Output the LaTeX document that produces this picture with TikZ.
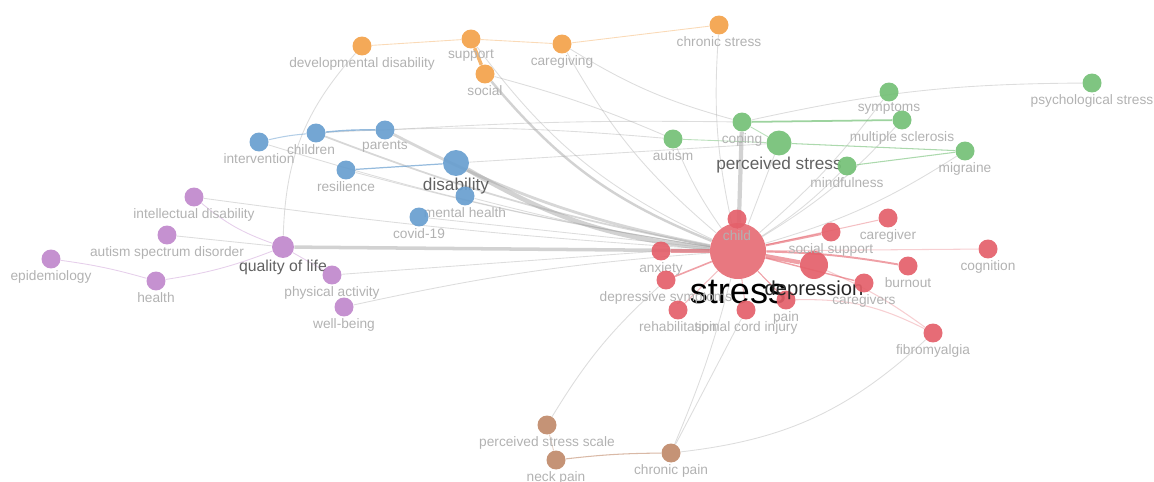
\documentclass[tikz,border=0pt]{standalone}
\usepackage{fontspec}
\setmainfont{Liberation Sans}
\usepackage{xcolor}
\usepackage{tikz}
\usetikzlibrary{positioning,backgrounds}

\definecolor{vosorange}{RGB}{243,162,74}
\definecolor{vosblue}{RGB}{104,158,207}
\definecolor{vosgreen}{RGB}{116,192,118}
\definecolor{vosred}{RGB}{228,96,106}
\definecolor{vospurple}{RGB}{192,136,204}
\definecolor{vosbrown}{RGB}{192,138,106}
\definecolor{labgray}{RGB}{178,178,178}

\begin{document}
\begin{tikzpicture}[x=0.02cm, y=0.02cm,
    kw/.style={circle, minimum size=0.38cm, inner sep=0pt, fill opacity=.92, label distance=0pt},
    lab/.style={font=\fontsize{7.8}{9}\selectfont, text=labgray, inner sep=0.5pt, text opacity=1},
    biglab/.style={font=\fontsize{9.8}{11}\selectfont, text=black!62, inner sep=0.5pt, text opacity=1},
    link/.style={draw=gray!70, opacity=.38, line width=.5pt},
    redlink/.style={draw=vosred, opacity=.6, line width=.6pt}]

    \useasboundingbox (0,0) rectangle (1154,481);

    % orange cluster
    \node [kw, fill=vosorange, label={[lab]below:developmental disability}] (devdis) at (362,435) {};
    \node [kw, fill=vosorange, label={[lab]below:support}] (support) at (471,442) {};
    \node [kw, fill=vosorange, label={[lab]below:social}] (social) at (485,407) {};
    \node [kw, fill=vosorange, label={[lab]below:caregiving}] (caregiving) at (562,437) {};
    \node [kw, fill=vosorange, label={[lab]below:chronic stress}] (chronstress) at (719,456) {};

    % blue cluster
    \node [kw, fill=vosblue, label={[lab]below:intervention}] (intervention) at (259,339) {};
    \node [kw, fill=vosblue, label={[lab, xshift=-0.1cm]below:children}] (children) at (316,348) {};
    \node [kw, fill=vosblue, label={[lab]below:parents}] (parents) at (385,351) {};
    \node [kw, fill=vosblue, label={[lab]below:resilience}] (resilience) at (346,311) {};
    \node [kw, fill=vosblue, minimum size=0.52cm, label={[biglab]below:disability}] (disability) at (456,318) {};
    \node [kw, fill=vosblue, label={[lab]below:mental health}] (mentalhealth) at (465,285) {};
    \node [kw, fill=vosblue, label={[lab]below:covid-19}] (covid) at (419,264) {};

    % green cluster
    \node [kw, fill=vosgreen, label={[lab]below:autism}] (autism) at (673,342) {};
    \node [kw, fill=vosgreen, label={[lab]below:coping}] (coping) at (742,359) {};
    \node [kw, fill=vosgreen, minimum size=0.5cm, label={[biglab]below:perceived stress}] (perceived) at (779,338) {};
    \node [kw, fill=vosgreen, label={[lab]below:symptoms}] (symptoms) at (889,389) {};
    \node [kw, fill=vosgreen, label={[lab]below:multiple sclerosis}] (ms) at (902,361) {};
    \node [kw, fill=vosgreen, label={[lab]below:mindfulness}] (mindfulness) at (847,315) {};
    \node [kw, fill=vosgreen, label={[lab]below:migraine}] (migraine) at (965,330) {};
    \node [kw, fill=vosgreen, label={[lab]below:psychological stress}] (psychstress) at (1092,398) {};

    % red cluster
    \node [kw, fill=vosred, minimum size=1.12cm, fill opacity=.85, label distance=-3pt,
        label={[font=\fontsize{20.5}{22}\selectfont, text=black, inner sep=0.5pt, text opacity=1]below:stress}] (stress) at (738,230) {};
    \node [kw, fill=vosred, label={[lab]below:child}] (child) at (737,262) {};
    \node [kw, fill=vosred, label={[lab]below:anxiety}] (anxiety) at (661,230) {};
    \node [kw, fill=vosred, label={[lab]below:depressive symptoms}] (depsym) at (666,201) {};
    \node [kw, fill=vosred, label={[lab]below:rehabilitation}] (rehab) at (678,171) {};
    \node [kw, fill=vosred, label={[lab]below:spinal cord injury}] (sci) at (746,171) {};
    \node [kw, fill=vosred, label={[lab]below:pain}] (pain) at (786,181) {};
    \node [kw, fill=vosred, minimum size=0.56cm, label={[font=\fontsize{11.5}{13}\selectfont, text=black!85, inner sep=0.5pt, text opacity=1]below:depression}] (depression) at (814,216) {};
    \node [kw, fill=vosred, label={[lab]below:social support}] (socsup) at (831,249) {};
    \node [kw, fill=vosred, label={[lab]below:caregiver}] (caregiver) at (888,263) {};
    \node [kw, fill=vosred, label={[lab]below:burnout}] (burnout) at (908,215) {};
    \node [kw, fill=vosred, label={[lab]below:caregivers}] (caregivers) at (864,198) {};
    \node [kw, fill=vosred, label={[lab]below:cognition}] (cognition) at (988,232) {};
    \node [kw, fill=vosred, label={[lab]below:fibromyalgia}] (fibro) at (933,148) {};

    % purple cluster
    \node [kw, fill=vospurple, label={[lab]below:intellectual disability}] (intdis) at (194,284) {};
    \node [kw, fill=vospurple, label={[lab]below:autism spectrum disorder}] (asd) at (167,246) {};
    \node [kw, fill=vospurple, label={[lab]below:epidemiology}] (epi) at (51,222) {};
    \node [kw, fill=vospurple, label={[lab]below:health}] (health) at (156,200) {};
    \node [kw, fill=vospurple, minimum size=0.44cm, label={[biglab, font=\fontsize{9}{11}\selectfont]below:quality of life}] (qol) at (283,234) {};
    \node [kw, fill=vospurple, label={[lab]below:physical activity}] (physact) at (332,206) {};
    \node [kw, fill=vospurple, label={[lab]below:well-being}] (wellbeing) at (344,174) {};

    % brown cluster
    \node [kw, fill=vosbrown, label={[lab]below:perceived stress scale}] (pss) at (547,56) {};
    \node [kw, fill=vosbrown, label={[lab]below:neck pain}] (neckpain) at (556,21) {};
    \node [kw, fill=vosbrown, label={[lab]below:chronic pain}] (chronpain) at (671,28) {};

    \begin{scope}[on background layer]
    % heavy links into stress
    \draw [link, opacity=.5, line width=2.6pt] (disability) to[bend right=12] (stress);
    \draw [link, opacity=.5, line width=2pt] (qol) -- (stress);
    \draw [link, opacity=.5, line width=2.4pt] (coping) -- (stress);
    \draw [link, opacity=.5, line width=1.4pt] (social) to[bend right=14] (stress);
    \draw [link, opacity=.45, line width=1.6pt] (parents) to[bend right=8] (stress);
    \draw [link, opacity=.45, line width=1pt] (children) to[bend right=5] (stress);

    % thin grey links
    \draw [link] (intervention) to[bend right=4] (stress);
    \draw [link] (resilience) to[bend right=3] (stress);
    \draw [link] (mentalhealth) to[bend right=3] (stress);
    \draw [link] (covid) -- (stress);
    \draw [link] (intdis) to[bend right=2] (stress);
    \draw [link] (physact) -- (anxiety);
    \draw [link] (wellbeing) to[bend left=4] (stress);
    \draw [link] (autism) to[bend right=6] (stress);
    \draw [link] (support) to[bend right=14] (stress);
    \draw [link] (caregiving) to[bend right=10] (stress);
    \draw [link] (chronstress) to[bend right=8] (stress);
    \draw [link] (devdis) to[bend right=20] (qol);
    \draw [link] (perceived) -- (stress);
    \draw [link] (mindfulness) to[bend left=6] (stress);
    \draw [link] (ms) to[bend left=8] (stress);
    \draw [link] (symptoms) to[bend left=6] (stress);
    \draw [link] (migraine) to[bend left=8] (stress);
    \draw [link] (psychstress) to[bend right=6] (coping);
    \draw [link] (parents) to[bend left=2] (coping);
    \draw [link] (disability) -- (perceived);
    \draw [link] (children) to[bend left=4] (autism);
    \draw [link] (caregiving) to[bend right=8] (coping);
    \draw [link] (social) to[bend left=4] (autism);
    \draw [link] (asd) -- (qol);
    \draw [link] (pss) to[bend left=8] (depsym);
    \draw [link] (chronpain) to[bend right=4] (stress);
    \draw [link] (chronpain) -- (sci);
    \draw [link] (chronpain) to[bend right=18] (fibro);

    % red links
    \draw [redlink, line width=2pt] (anxiety) -- (stress);
    \draw [redlink, line width=2.4pt] (stress) -- (depression);
    \draw [redlink] (stress) -- (child);
    \draw [redlink, line width=1.2pt] (stress) -- (socsup);
    \draw [redlink, opacity=.4] (stress) -- (caregiver);
    \draw [redlink, line width=1.1pt] (stress) to[bend left=4] (burnout);
    \draw [redlink, line width=.8pt] (stress) -- (caregivers);
    \draw [redlink, opacity=.3] (stress) -- (cognition);
    \draw [redlink] (stress) -- (pain);
    \draw [redlink, line width=.9pt] (stress) -- (depsym);
    \draw [redlink, opacity=.4] (stress) -- (rehab);
    \draw [redlink, opacity=.4] (stress) -- (sci);
    \draw [redlink, opacity=.3] (pain) to[bend left=14] (fibro);
    \draw [redlink, opacity=.3] (depression) to[bend left=6] (fibro);

    % green links
    \draw [draw=vosgreen, opacity=.7, line width=1pt] (coping) -- (ms);
    \draw [draw=vosgreen, opacity=.6, line width=.6pt] (perceived) -- (migraine);
    \draw [draw=vosgreen, opacity=.6, line width=.6pt] (mindfulness) -- (migraine);
    \draw [draw=vosgreen, opacity=.5, line width=.5pt] (autism) -- (perceived);
    \draw [draw=vosgreen, opacity=.5, line width=.5pt] (coping) -- (perceived);

    % blue links
    \draw [draw=vosblue, opacity=.5, line width=.6pt] (intervention) to[bend left=4] (children);
    \draw [draw=vosblue, opacity=.7, line width=.8pt] (children) to[bend left=3] (parents);
    \draw [draw=vosblue, opacity=.7, line width=.7pt] (resilience) -- (disability);

    % orange links
    \draw [draw=vosorange, opacity=.4, line width=.5pt] (devdis) -- (support);
    \draw [draw=vosorange, opacity=.4, line width=.5pt] (support) -- (caregiving);
    \draw [draw=vosorange, opacity=.4, line width=.5pt] (caregiving) -- (chronstress);
    \draw [draw=vosorange, opacity=.8, line width=2pt] (support) -- (social);

    % purple links
    \draw [draw=vospurple, opacity=.4, line width=.5pt] (epi) to[bend left=4] (health);
    \draw [draw=vospurple, opacity=.4, line width=.5pt] (health) to[bend right=6] (qol);
    \draw [draw=vospurple, opacity=.4, line width=.5pt] (intdis) to[bend right=10] (qol);
    \draw [draw=vospurple, opacity=.4, line width=.5pt] (qol) -- (physact);

    % brown links
    \draw [draw=vosbrown, opacity=.6, line width=.6pt] (neckpain) to[bend left=3] (chronpain);
    \draw [draw=vosbrown, opacity=.4, line width=.5pt] (pss) -- (neckpain);
    \end{scope}
\end{tikzpicture}
\end{document}
